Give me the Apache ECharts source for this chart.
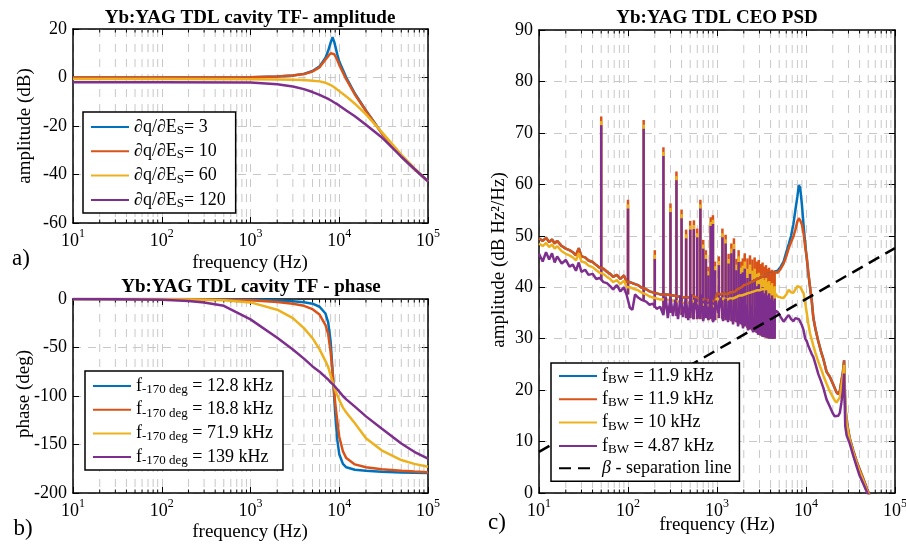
<!DOCTYPE html>
<html>
<head>
<meta charset="utf-8">
<title>Yb:YAG TDL</title>
<script src="https://cdn.jsdelivr.net/npm/echarts@6.0.0/dist/echarts.min.js"></script>
<style>
  html, body { margin: 0; padding: 0; background: #fff; }
  #chart { width: 906px; height: 549px; }
</style>
</head>
<body>
<div id="chart"></div>
<script>
// ---- panel a: cavity TF amplitude (dB) ----
const ampFreq = [10, 100, 1000, 2000, 3000, 4000, 5000, 6000, 7000, 7500, 8000, 8400, 8800, 9500, 10000, 12000, 15000, 20000, 30000, 50000, 70000, 100000];
const ampDq3 = [0, 0, 0.1, 0.4, 0.8, 1.5, 2.7, 4.6, 8.2, 11.0, 14.4, 16.6, 14.6, 9.6, 6.6, 0.0, -6.6, -13.6, -22.8, -32.6, -37.8, -42.8];
const ampDq10 = [0, 0, 0.1, 0.4, 0.8, 1.4, 2.5, 4.2, 7.4, 8.8, 10.0, 10.3, 9.6, 7.2, 5.2, -0.8, -7.0, -13.8, -22.9, -32.6, -37.8, -42.8];
const ampDq60 = [-0.6, -0.6, -0.7, -0.8, -0.9, -1.0, -1.3, -1.6, -2.2, -2.6, -3.1, -3.6, -4.0, -5.0, -5.8, -7.8, -10.8, -15.2, -22.4, -31.8, -37.4, -42.8];
const ampDq120 = [-2.0, -2.0, -2.1, -2.8, -3.7, -4.8, -6.0, -7.2, -8.3, -8.8, -9.4, -9.9, -10.3, -11.0, -11.6, -13.6, -16.0, -19.5, -24.6, -32.6, -37.6, -42.8];

// ---- panel b: cavity TF phase (deg) ----
const phaseFreq = [10, 30, 100, 200, 300, 500, 1000, 2000, 3000, 4000, 5000, 6000, 7000, 7500, 8000, 8300, 8600, 9000, 9500, 10000, 11000, 12000, 15000, 20000, 30000, 50000, 70000, 100000];
const phase128 = [0, 0, 0, -0.1, -0.2, -0.4, -0.8, -1.6, -2.4, -3.4, -4.8, -8, -15, -24, -44, -66, -88, -118, -145, -160, -170, -173.5, -176, -177, -178, -178.8, -179.2, -179.5];
const phase188 = [0, 0, -0.1, -0.2, -0.4, -0.7, -1.4, -3.0, -4.8, -7.0, -10.5, -16, -27, -36, -55, -70, -88, -107, -126, -142, -157, -164, -170.5, -173.5, -175.5, -177, -177.8, -178.5];
const phase719 = [0, -0.1, -0.3, -0.6, -0.9, -1.4, -3.5, -11, -19.7, -30, -40.4, -52, -64, -70, -79, -84, -88, -94, -99, -104, -112, -117, -128, -143.5, -156, -166, -170, -173];
const phase139 = [-0.1, -0.3, -0.8, -2, -3.5, -7, -21, -40, -52, -61.5, -69.5, -75, -80.5, -83, -86, -87, -88.5, -90.5, -93, -95.5, -100, -103.5, -111, -121, -133.5, -149, -157.5, -164.5];

// ---- panel c: CEO PSD (dB Hz^2/Hz) ----
const psdFreq = [
  10, 11, 12, 13, 14, 15, 16, 18, 20, 22, 24, 26, 28, 30, 33, 36, 40, 44, 48, 53, 58, 63, 68, 75, 82, 90, 97,
  105, 112, 120, 130, 140, 160, 175, 190, 210, 230, 270, 320, 370, 420, 480, 530, 580, 620, 680, 730, 780, 830, 880, 950,
  1000, 1100, 1200, 1300, 1400, 1500, 1600, 1700, 1800, 1900, 2000, 2200, 2400, 2600, 2800, 3000, 3200, 3400, 3600, 3800, 4000, 4200, 4400, 4600, 4800,
  5200, 5600, 6000, 6400, 6800, 7200, 7600, 8000, 8300, 8600, 9000, 9400, 9800,
  10200, 10600, 11100, 11600, 12100, 12800, 13700, 14700, 15700, 17000, 18500, 20000, 21000, 22000, 23000, 24000, 25000, 26000, 26800, 27600, 28600, 31000, 34000, 37000, 40000, 44000, 48000, 52000
];
const psdBlue = [
  49.5, 49.0, 49.6, 48.8, 49.3, 48.5, 49.0, 48.0, 47.5, 47.2, 46.8, 46.2, 47.6, 46.0, 45.8, 45.2, 44.9, 44.3, 43.8, 43.6, 43.0, 42.6, 42.0, 42.4, 41.6, 42.3, 41.0,
  41.0, 40.8, 40.6, 40.4, 40.0, 39.6, 39.2, 39.0, 38.8, 38.6, 38.6, 38.4, 38.2, 38.0, 38.0, 38.4, 38.0, 37.8, 37.6, 37.6, 37.4, 37.6, 37.4, 37.2,
  38.8, 38.6, 38.8, 38.6, 39.0, 39.0, 39.2, 39.6, 39.8, 40.0, 40.4, 40.6, 41.0, 41.2, 41.6, 41.8, 42.0, 42.2, 42.4, 42.6, 42.8, 42.6, 43.0, 43.2, 43.2,
  44.0, 45.0, 46.8, 48.4, 50.0, 52.2, 55.0, 57.6, 59.8, 59.4, 56.0, 52.0, 48.4,
  45.6, 42.8, 40.0, 37.4, 34.0, 31.8, 29.6, 27.6, 26.0, 23.6, 22.6, 21.3, 20.4, 19.6, 19.2, 19.8, 21.8, 23.5, 25.8, 17.0, 14.0, 10.6, 8.2, 6.2, 4.6, 2.8, 1.0, -0.5
];
const psdOrange = [
  49.5, 49.0, 49.6, 48.8, 49.3, 48.5, 49.0, 48.0, 47.5, 47.2, 46.8, 46.2, 47.6, 46.0, 45.8, 45.2, 44.9, 44.3, 43.8, 43.6, 43.0, 42.6, 42.0, 42.4, 41.6, 42.3, 41.0,
  41.0, 40.8, 40.6, 40.4, 40.0, 39.6, 39.2, 39.0, 38.8, 38.6, 38.6, 38.4, 38.2, 38.0, 38.0, 38.4, 38.0, 37.8, 37.6, 37.6, 37.4, 37.6, 37.4, 37.2,
  38.8, 38.6, 38.8, 38.6, 39.0, 39.0, 39.2, 39.6, 39.8, 40.0, 40.4, 40.6, 41.0, 41.2, 41.6, 41.8, 42.0, 42.2, 42.4, 42.6, 42.8, 42.6, 43.0, 43.0, 42.8,
  43.6, 44.6, 46.0, 47.6, 48.8, 49.8, 51.2, 52.8, 53.4, 53.0, 52.2, 50.4, 47.8,
  45.8, 43.0, 40.0, 37.4, 34.0, 31.8, 29.6, 27.6, 26.0, 23.6, 22.6, 21.3, 20.4, 19.6, 19.2, 19.8, 21.8, 23.5, 25.8, 17.0, 14.0, 10.6, 8.2, 6.2, 4.6, 2.8, 1.0, -0.5
];
const psdYellow = [
  48.5, 48.0, 48.6, 47.8, 48.3, 47.5, 48.0, 47.0, 46.5, 46.2, 45.8, 45.2, 46.6, 45.0, 44.8, 44.2, 43.9, 43.3, 42.8, 42.6, 42.0, 41.6, 41.0, 41.4, 40.6, 41.3, 40.0,
  40.0, 39.8, 39.6, 39.4, 39.0, 38.6, 38.2, 38.0, 37.8, 37.6, 37.6, 37.4, 37.2, 37.0, 37.0, 37.4, 37.0, 36.8, 36.6, 36.6, 36.4, 36.6, 36.4, 36.2,
  37.8, 37.6, 37.8, 37.6, 37.8, 37.8, 38.0, 38.2, 38.4, 38.4, 38.6, 38.8, 39.0, 39.2, 39.4, 39.4, 39.6, 39.6, 39.8, 39.8, 40.0, 39.6, 39.8, 38.6, 38.2,
  38.0, 37.9, 38.6, 39.5, 39.0, 38.9, 39.6, 40.2, 40.4, 40.0, 39.8, 38.8, 36.9,
  35.0, 33.0, 31.0, 29.8, 28.6, 27.2, 25.6, 24.2, 22.8, 21.3, 19.8, 18.7, 18.0, 17.6, 17.8, 18.6, 20.7, 22.5, 24.9, 16.5, 13.4, 10.2, 7.8, 5.8, 4.2, 2.4, 0.6, -0.8
];
// purple trace is much noisier between the harmonics, so it has its own, denser sampling
const psdPurpleFreq = [
  10, 11, 12, 13, 14, 15, 16, 18, 20, 22, 24, 26, 28, 30, 33, 36, 40, 44, 48, 53, 58, 63, 68, 75, 82, 90, 97,
  105, 112, 120, 130, 140, 160, 175, 190, 210, 230,
  250, 265, 280, 300, 320, 340, 365, 390, 415, 445, 475, 505, 540, 575, 615, 655, 700, 745, 795, 850, 905, 965,
  1030, 1100, 1170, 1250, 1330, 1420, 1515, 1615, 1725, 1840, 1960, 2090, 2230, 2380, 2540, 2710, 2890, 3080, 3290, 3510, 3740, 3990, 4260, 4550, 4800,
  5200, 5600, 6000, 6400, 6800, 7200, 7600, 8000, 8300, 8600, 9000, 9400, 9800,
  10200, 10600, 11100, 11600, 12100, 12800, 13700, 14700, 15700, 17000, 18500, 20000, 21000, 22000, 23000, 24000, 25000, 26000, 26800, 27600, 28600, 31000, 34000, 37000, 40000, 44000, 48000, 52000
];
const psdPurple = [
  46.5, 45.0, 46.8, 45.4, 46.6, 44.8, 46.0, 44.6, 45.3, 44.0, 44.4, 43.2, 44.8, 43.0, 43.4, 42.4, 42.6, 41.6, 41.8, 41.0, 40.8, 40.2, 39.6, 40.4, 39.2, 40.0, 38.4,
  36.0, 35.6, 38.6, 38.0, 37.6, 37.2, 36.6, 36.8, 35.8, 36.2,
  34.6, 38.2, 34.0, 38.0, 34.4, 37.6, 33.8, 38.4, 34.2, 37.8, 33.6, 38.6, 33.8, 37.8, 34.0, 38.6, 33.4, 37.6, 33.8, 38.2, 33.2, 37.4,
  35.0, 38.0, 33.4, 37.8, 33.2, 37.6, 32.8, 37.2, 32.4, 37.0, 32.0, 36.6, 31.6, 36.6, 31.2, 36.2, 30.8, 36.0, 30.4, 36.0, 30.2, 35.6, 30.0, 35.4, 35.2,
  34.2, 33.3, 34.0, 34.6, 33.8, 33.4, 34.0, 34.3, 33.8, 33.3, 32.6, 31.6, 30.0,
  29.5, 28.6, 27.8, 27.0, 26.4, 25.0, 23.2, 21.8, 20.4, 18.2, 16.8, 15.5, 14.9, 14.6, 15.0, 15.6, 17.6, 20.0, 23.2, 13.0, 11.2, 9.6, 7.2, 5.2, 3.4, 1.8, 0.3, -1.0
];
// narrow harmonic lines: frequency, foot level and top level for each trace
const spikeFreq = [50, 100, 150, 200, 250, 300, 350, 400, 450, 500, 550, 600, 650, 700, 750, 800, 850, 900, 950,
  1050, 1150, 1250, 1350, 1450, 1550, 1650, 1750, 1850, 1950,
  2050, 2200, 2350, 2500, 2650, 2800, 2950, 3100, 3250, 3400, 3550, 3700, 3850, 4000, 4150, 4300, 4450];
const spikeFoot = [41.5, 38.6, 37.4, 36.0, 35.6, 35.0, 34.4, 34.6, 34.0, 34.0, 33.8, 33.8, 33.8, 33.8, 34.0, 33.6, 33.8, 33.4, 33.6,
  34.0, 33.8, 33.6, 33.6, 33.4, 33.4, 33.2, 33.0, 32.8, 32.6,
  32.4, 32.1, 31.8, 31.6, 31.3, 31.1, 30.8, 30.6, 30.4, 30.3, 30.2, 30.1, 30.0, 30.0, 30.0, 30.0, 30.0];
const spikeTopOrange = [73.2, 57.0, 72.5, 47.2, 67.2, 56.3, 62.5, 55.1, 51.2, 52.9, 53.0, 51.4, 57.0, 49.2, 47.2, 44.0, 53.6, 54.0, 45.0,
  46.0, 51.4, 50.2, 46.5, 48.5, 49.5, 45.5, 47.2, 45.0, 45.6,
  46.6, 45.6, 46.2, 45.4, 45.8, 45.0, 45.3, 44.5, 44.8, 44.0, 44.3, 43.6, 43.8, 43.2, 43.4, 42.9, 43.0];
const spikeTopYellow = [72.3, 56.1, 71.6, 46.3, 66.3, 55.4, 61.6, 54.2, 50.3, 52.0, 52.1, 50.5, 56.1, 48.3, 46.3, 43.1, 52.7, 53.1, 44.1,
  45.1, 50.5, 49.3, 45.5, 47.5, 48.4, 44.4, 46.0, 43.8, 44.2,
  45.0, 43.6, 44.4, 43.2, 43.6, 42.6, 42.8, 42.0, 42.4, 41.4, 41.8, 41.0, 41.2, 40.4, 40.8, 40.0, 40.2];
const spikeTopPurple = [71.5, 55.3, 70.8, 45.5, 65.5, 54.6, 60.8, 53.4, 49.5, 51.2, 51.3, 49.7, 55.3, 47.5, 45.5, 42.3, 51.9, 52.3, 43.3,
  44.3, 49.7, 48.5, 44.6, 46.6, 47.4, 43.3, 44.9, 42.6, 42.9,
  43.6, 41.8, 42.6, 41.0, 41.6, 40.2, 40.6, 39.4, 40.0, 38.8, 39.4, 38.4, 38.8, 37.8, 38.4, 37.4, 37.8];
// beta separation line end points
const betaFreq = [10, 100000];
const betaVal = [8.0, 47.6];

// axis ticks
const minorFreq = [20, 30, 40, 50, 60, 70, 80, 90, 200, 300, 400, 500, 600, 700, 800, 900,
  2000, 3000, 4000, 5000, 6000, 7000, 8000, 9000, 20000, 30000, 40000, 50000, 60000, 70000, 80000, 90000];

const FONT = '"Liberation Serif", "Times New Roman", serif';
const COLORS = ['#0072BD', '#D95319', '#EDB120', '#7E2F8E'];
const GRID_COLOR = '#c8c8c8';

const legendText = {
  dq3: '∂q/∂E{s|S}= 3', dq10: '∂q/∂E{s|S}= 10', dq60: '∂q/∂E{s|S}= 60', dq120: '∂q/∂E{s|S}= 120',
  ph1: 'f{s|-170 deg} = 12.8 kHz', ph2: 'f{s|-170 deg} = 18.8 kHz', ph3: 'f{s|-170 deg} = 71.9 kHz', ph4: 'f{s|-170 deg} = 139 kHz',
  bw1: 'f{s|BW} = 11.9 kHz', bw2: 'f{s|BW} = 11.9 kHz', bw3: 'f{s|BW} = 10 kHz', bw4: 'f{s|BW} = 4.87 kHz',
  beta: '{i|β} - separation line'
};

const zip = (xs, ys) => xs.map((x, i) => [x, ys[i]]);

function xAxes(g) {
  const base = {
    type: 'log', logBase: 10, gridIndex: g, min: 10, max: 100000,
    axisLine: { show: true, onZero: false, lineStyle: { color: '#000', width: 1.5 } },
    axisTick: { show: true, inside: true, length: 6, lineStyle: { color: '#000', width: 1 } }
  };
  return [
    Object.assign({}, base, {
      position: 'bottom',
      axisLabel: {
        margin: 5, color: '#000',
        formatter: v => '{b|10}{e|' + Math.round(Math.log10(v)) + '}',
        rich: {
          b: { fontFamily: FONT, fontSize: 18, lineHeight: 26, color: '#000' },
          e: { fontFamily: FONT, fontSize: 12, lineHeight: 12, verticalAlign: 'top', color: '#000' }
        }
      },
      splitLine: { show: true, lineStyle: { color: GRID_COLOR, width: 1, type: [8, 7] } }
    }),
    Object.assign({}, base, { position: 'top', axisLabel: { show: false }, splitLine: { show: false } })
  ];
}

function yAxes(g, min, max, interval) {
  const base = {
    type: 'value', gridIndex: g, min: min, max: max, interval: interval,
    axisLine: { show: true, onZero: false, lineStyle: { color: '#000', width: 1.5 } },
    axisTick: { show: true, inside: true, length: 6, lineStyle: { color: '#000', width: 1 } }
  };
  return [
    Object.assign({}, base, {
      position: 'left',
      axisLabel: { margin: 6, color: '#000', fontFamily: FONT, fontSize: 18 },
      splitLine: { show: true, lineStyle: { color: GRID_COLOR, width: 1, type: [8, 7] } }
    }),
    Object.assign({}, base, { position: 'right', axisLabel: { show: false }, splitLine: { show: false } })
  ];
}

function minorGrid(g) {
  return {
    type: 'custom', xAxisIndex: 2 * g, yAxisIndex: 2 * g, z: 1, silent: true, clip: false,
    encode: { x: 0, y: 1 },
    data: minorFreq.map(f => [f, 0]),
    renderItem: function (params, api) {
      const cs = params.coordSys;
      const x = api.coord([api.value(0), api.value(1)])[0];
      const top = cs.y, bot = cs.y + cs.height;
      return {
        type: 'group',
        children: [
          { type: 'line', shape: { x1: x, y1: top, x2: x, y2: bot }, style: { stroke: GRID_COLOR, lineWidth: 1, lineDash: [8, 7] } },
          { type: 'line', shape: { x1: x, y1: bot, x2: x, y2: bot - 3.5 }, style: { stroke: '#000', lineWidth: 1 } },
          { type: 'line', shape: { x1: x, y1: top, x2: x, y2: top + 3.5 }, style: { stroke: '#000', lineWidth: 1 } }
        ]
      };
    }
  };
}

function lineSeries(name, g, xs, ys, color, extra) {
  return Object.assign({
    name: name, type: 'line', xAxisIndex: 2 * g, yAxisIndex: 2 * g,
    data: zip(xs, ys), symbol: 'none', showSymbol: false, z: 2,
    lineStyle: { color: color, width: 2.5 }, itemStyle: { color: color }
  }, extra || {});
}

function spikeSeries(name, tops, color) {
  return {
    name: name, type: 'custom', xAxisIndex: 4, yAxisIndex: 4, z: 2, silent: true,
    encode: { x: 0, y: [1, 2] },
    itemStyle: { color: color },
    data: spikeFreq.map((f, i) => [f, spikeFoot[i], tops[i]]),
    renderItem: function (params, api) {
      const p0 = api.coord([api.value(0), api.value(1)]);
      const p1 = api.coord([api.value(0), api.value(2)]);
      return { type: 'line', shape: { x1: p0[0], y1: p0[1], x2: p1[0], y2: p1[1] }, style: { stroke: color, lineWidth: 2.5 } };
    }
  };
}

function legend(names, left, top, pad, gap) {
  return {
    data: names, orient: 'vertical', left: left, top: top, padding: pad, itemGap: gap,
    itemWidth: 38, itemHeight: 14, selectedMode: false,
    borderColor: '#000', borderWidth: 1.5, borderRadius: 0, backgroundColor: '#fff',
    itemStyle: { opacity: 0 },
    formatter: n => legendText[n],
    textStyle: {
      fontFamily: FONT, fontSize: 18, lineHeight: 20, color: '#000',
      rich: {
        s: { fontFamily: FONT, fontSize: 13, lineHeight: 13, padding: [8, 0, 0, 0], verticalAlign: 'bottom', color: '#000' },
        i: { fontFamily: FONT, fontSize: 18, lineHeight: 20, fontStyle: 'italic', color: '#000' }
      }
    }
  };
}

function label(text, x, y, opts) {
  return Object.assign({
    type: 'text', x: x, y: y,
    style: Object.assign({ text: text, fontFamily: FONT, fontSize: 19, fill: '#000', textAlign: 'center', textVerticalAlign: 'middle' }, (opts && opts.style) || {})
  }, opts && opts.rotation ? { rotation: opts.rotation } : {});
}

const chart = echarts.init(document.getElementById('chart'), null, { renderer: 'canvas' });

const option = {
  animation: false,
  backgroundColor: '#fff',
  grid: [
    { left: 73, top: 29, width: 355, height: 194, containLabel: false, outerBoundsMode: 'none' },
    { left: 73, top: 299, width: 355, height: 194, containLabel: false, outerBoundsMode: 'none' },
    { left: 539, top: 30, width: 356, height: 463, containLabel: false, outerBoundsMode: 'none' }
  ],
  xAxis: [].concat(xAxes(0), xAxes(1), xAxes(2)),
  yAxis: [].concat(yAxes(0, -60, 20, 20), yAxes(1, -200, 0, 50), yAxes(2, 0, 90, 10)),
  legend: [
    legend(['dq3', 'dq10', 'dq60', 'dq120'], 83, 112, [4, 10, 3, 7], 3.3),
    legend(['ph1', 'ph2', 'ph3', 'ph4'], 85, 371, [4, 10, 3, 7], 2.7),
    legend(['bw1', 'bw2', 'bw3', 'bw4', 'beta'], 551, 363, [2, 8, 3, 7], 2.3)
  ],
  series: [
    minorGrid(0), minorGrid(1), minorGrid(2),
    lineSeries('dq3', 0, ampFreq, ampDq3, COLORS[0]),
    lineSeries('dq10', 0, ampFreq, ampDq10, COLORS[1]),
    lineSeries('dq60', 0, ampFreq, ampDq60, COLORS[2]),
    lineSeries('dq120', 0, ampFreq, ampDq120, COLORS[3]),
    lineSeries('ph1', 1, phaseFreq, phase128, COLORS[0]),
    lineSeries('ph2', 1, phaseFreq, phase188, COLORS[1]),
    lineSeries('ph3', 1, phaseFreq, phase719, COLORS[2]),
    lineSeries('ph4', 1, phaseFreq, phase139, COLORS[3]),
    lineSeries('bw1', 2, psdFreq, psdBlue, COLORS[0]),
    lineSeries('bw2', 2, psdFreq, psdOrange, COLORS[1]),
    spikeSeries('spikes2', spikeTopOrange, COLORS[1]),
    lineSeries('bw3', 2, psdFreq, psdYellow, COLORS[2]),
    spikeSeries('spikes3', spikeTopYellow, COLORS[2]),
    lineSeries('bw4', 2, psdPurpleFreq, psdPurple, COLORS[3]),
    spikeSeries('spikes4', spikeTopPurple, COLORS[3]),
    lineSeries('beta', 2, betaFreq, betaVal, '#000', { lineStyle: { color: '#000', width: 2.5, type: [12, 7] } })
  ],
  graphic: [
    label('Yb:YAG TDL cavity TF- amplitude', 250, 18, { style: { fontWeight: 'bold' } }),
    label('Yb:YAG TDL cavity TF - phase', 251, 287, { style: { fontWeight: 'bold' } }),
    label('Yb:YAG TDL CEO PSD', 717, 18, { style: { fontWeight: 'bold' } }),
    label('frequency (Hz)', 250, 263),
    label('frequency (Hz)', 250, 532),
    label('frequency (Hz)', 717, 525),
    label('amplitude (dB)', 25, 126, { rotation: Math.PI / 2 }),
    label('phase (deg)', 24, 394, { rotation: Math.PI / 2 }),
    label('amplitude (dB Hz²/Hz)', 499, 260, { rotation: Math.PI / 2 }),
    label('a)', 21, 259, { style: { fontSize: 23 } }),
    label('b)', 23, 529, { style: { fontSize: 23 } }),
    label('c)', 497, 523, { style: { fontSize: 23 } })
  ]
};

chart.setOption(option);
</script>
</body>
</html>
